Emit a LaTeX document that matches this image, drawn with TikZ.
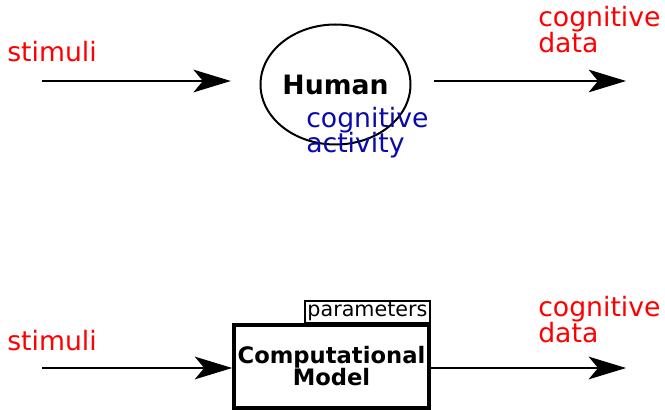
\documentclass[tikz,border=0pt]{standalone}
\usepackage{fontspec}
\setmainfont{DejaVu Sans}
\usetikzlibrary{shapes.geometric, arrows.meta, positioning}
\definecolor{actblue}{RGB}{10,10,170}

\begin{document}
\begin{tikzpicture}[x=0.75pt, y=-0.75pt, inner sep=0pt,
		>={Stealth[length=28pt, width=17pt, inset=7pt]},
		redtxt/.style={text=red, anchor=base west, align=left, font=\fontsize{20}{19.5}\selectfont},
		flow/.style={->, draw=black, line width=1.5pt}]
		\useasboundingbox (0,0) rectangle (665,410);
		% top: the human
		\node[draw, ellipse, line width=1.5pt, minimum width=109pt, minimum height=90pt, font=\fontsize{20}{24}\selectfont\bfseries] (human) at (335.5,84.5) {Human};
		\node[redtxt] (stimtop) at (7,62) {stimuli};
		\node[redtxt] (datatop) at (538,53) {cognitive\\data};
		\node[redtxt, text=actblue] (activity) at (306,153) {cognitive\\activity};
		\coordinate (intop) at (42,81);
		\coordinate (outtop) at (626,81);
		
		% bottom: the model
		\node[draw, line width=3pt, minimum width=146pt, minimum height=62pt, align=center, font=\fontsize{17}{16.5}\selectfont\bfseries] (model) at (331.5,366.5) {Computational\\Model};
		\node[draw, line width=1.1pt, minimum width=94pt, minimum height=16pt, font=\fontsize{15.5}{18}\selectfont, above left=0pt and 0pt of model.north east] (params) {parameters};
		\node[redtxt] (stimbot) at (7,350) {stimuli};
		\node[redtxt] (databot) at (538,342) {cognitive\\data};
		\coordinate (inbot) at (42,368);
		\coordinate (outbot) at (626,368);
		
		\draw[flow, shorten >=21.5pt] (intop) to (intop -| human.west);
		\draw[flow, shorten <=17pt] (human.east |- intop) to (outtop);
		\draw[flow] (inbot) to (inbot -| model.west);
		\draw[flow] (model.east |- inbot) to (outbot);
		
		\end{tikzpicture}
\end{document}
